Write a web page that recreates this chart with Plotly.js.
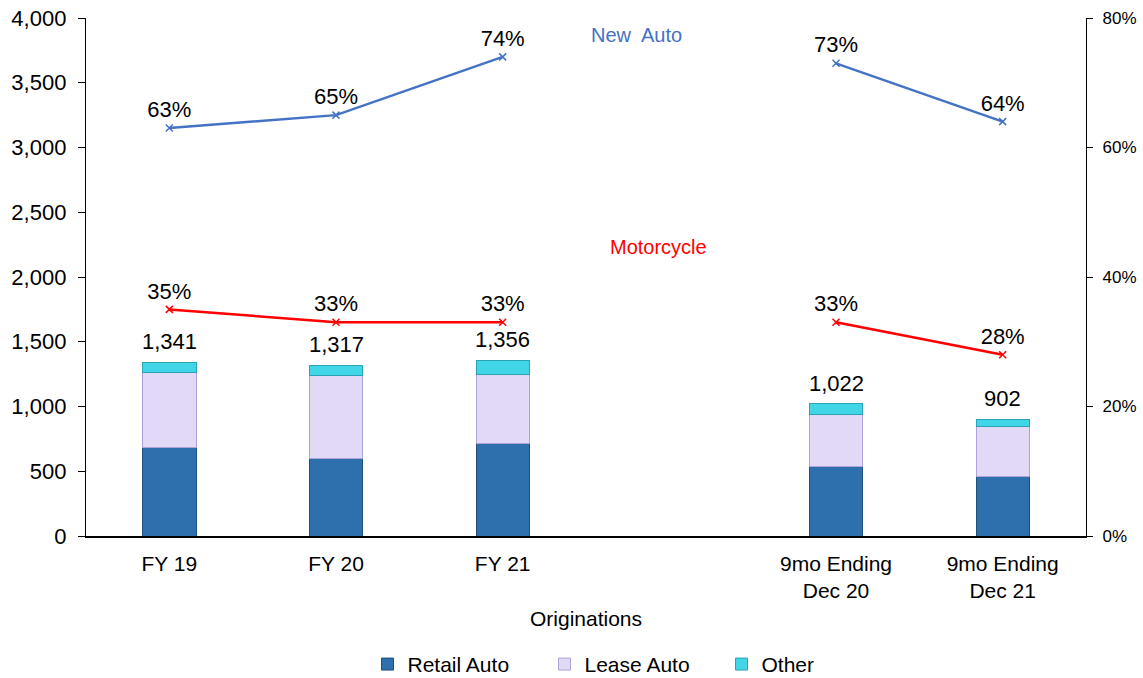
<!DOCTYPE html>
<html>
<head>
<meta charset="utf-8">
<script src="https://cdn.plot.ly/plotly-3.0.1.min.js"></script>
<style>html,body{margin:0;padding:0;background:#fff;}#chart{width:1143px;height:678px;}</style>
</head>
<body>
<div id="chart"></div>
<script>
const categories = ["FY 19", "FY 20", "FY 21", " ", "9mo Ending<br>Dec 20", "9mo Ending<br>Dec 21"];
const retailAuto = [680, 602, 718, null, 533, 456];
const leaseAuto  = [586, 634, 533, null, 409, 386];
const other      = [75, 81, 105, null, 80, 60];
const totals     = [1341, 1317, 1356, null, 1022, 902];
const newAutoPct    = [0.63, 0.65, 0.74, null, 0.73, 0.64];
const motorcyclePct = [0.35, 0.33, 0.33, null, 0.33, 0.28];
const leftTicks  = [0, 500, 1000, 1500, 2000, 2500, 3000, 3500, 4000];
const rightTicks = [0, 0.2, 0.4, 0.6, 0.8];

const FONT = "Liberation Sans, Arial, sans-serif";
const BW = 0.32;

const traces = [
  {type: "bar", name: "Retail Auto", x: categories, y: retailAuto, width: BW,
   marker: {color: "#2E70AE", line: {color: "#1E4F7E", width: 1}}, hoverinfo: "y+name"},
  {type: "bar", name: "Lease Auto", x: categories, y: leaseAuto, width: BW,
   marker: {color: "#E2D9F7", line: {color: "#AFA2D8", width: 1}}, hoverinfo: "y+name"},
  {type: "bar", name: "Other", x: categories, y: other, width: BW,
   marker: {color: "#40D6E8", line: {color: "#2BA3B5", width: 1}}, hoverinfo: "y+name"},
  {type: "scatter", mode: "lines+markers+text", name: "New Auto", x: categories, y: newAutoPct,
   yaxis: "y2", showlegend: false, connectgaps: false,
   line: {color: "#4472C4", width: 2.5},
   marker: {symbol: "x-thin", size: 7, line: {color: "#4472C4", width: 1.5}},
   texttemplate: "%{y:.0%}", textposition: "top center",
   textfont: {family: FONT, size: 22, color: "#000"}},
  {type: "scatter", mode: "lines+markers+text", name: "Motorcycle", x: categories, y: motorcyclePct,
   yaxis: "y2", showlegend: false, connectgaps: false,
   line: {color: "#FF0000", width: 2.5},
   marker: {symbol: "x-thin", size: 7, line: {color: "#FF0000", width: 1.5}},
   texttemplate: "%{y:.0%}", textposition: "top center",
   textfont: {family: FONT, size: 22, color: "#000"}}
];

const totalLabels = categories.map((c, i) => totals[i] == null ? null : ({
  x: c, y: totals[i], xref: "x", yref: "y", text: totals[i].toLocaleString("en-US"),
  showarrow: false, yanchor: "bottom", yshift: 6,
  font: {family: FONT, size: 22, color: "#000"}
})).filter(a => a);

const layout = {
  width: 1143, height: 678,
  margin: {l: 86, r: 57, t: 18, b: 142, autoexpand: false},
  paper_bgcolor: "#fff", plot_bgcolor: "#fff",
  barmode: "stack",
  font: {family: FONT, size: 21, color: "#000"},
  showlegend: true,
  legend: {orientation: "h", x: 0.547, xanchor: "center", yref: "container", y: 0.02, yanchor: "middle",
           font: {family: FONT, size: 21, color: "#000"}, traceorder: "normal",
           itemwidth: 30, entrywidth: 132, entrywidthmode: "pixels"},
  xaxis: {type: "category", categoryarray: categories, showline: true, linecolor: "#000", linewidth: 1.5,
          ticks: "outside", ticklen: 8, tickcolor: "rgba(0,0,0,0)", showgrid: false, zeroline: false,
          tickfont: {size: 21}, automargin: false,
          title: {text: "Originations", font: {size: 21}, standoff: 10}},
  yaxis: {range: [0, 4000], tickvals: leftTicks, tickformat: ",d", showline: true, linecolor: "#000",
          linewidth: 1.2, ticks: "outside", ticklen: 7, tickcolor: "#000", showgrid: false,
          zeroline: false, tickfont: {size: 22}, automargin: false, ticklabelstandoff: 7},
  yaxis2: {overlaying: "y", side: "right", range: [0, 0.8], tickvals: rightTicks, tickformat: ".0%",
           showline: true, linecolor: "#000", linewidth: 1.2, ticks: "outside", ticklen: 6,
           tickcolor: "#000", showgrid: false, zeroline: false, tickfont: {size: 17}, automargin: false,
           ticklabelstandoff: 6},
  annotations: [
    {xref: "paper", yref: "paper", x: 0.55, y: 0.967, text: "New  Auto", showarrow: false,
     font: {family: FONT, size: 20, color: "#4472C4"}, xanchor: "center", yanchor: "middle"},
    {xref: "paper", yref: "paper", x: 0.572, y: 0.558, text: "Motorcycle", showarrow: false,
     font: {family: FONT, size: 20, color: "#FF0000"}, xanchor: "center", yanchor: "middle"}
  ].concat(totalLabels)
};

Plotly.newPlot("chart", traces, layout, {displayModeBar: false, staticPlot: true});
</script>
</body>
</html>
